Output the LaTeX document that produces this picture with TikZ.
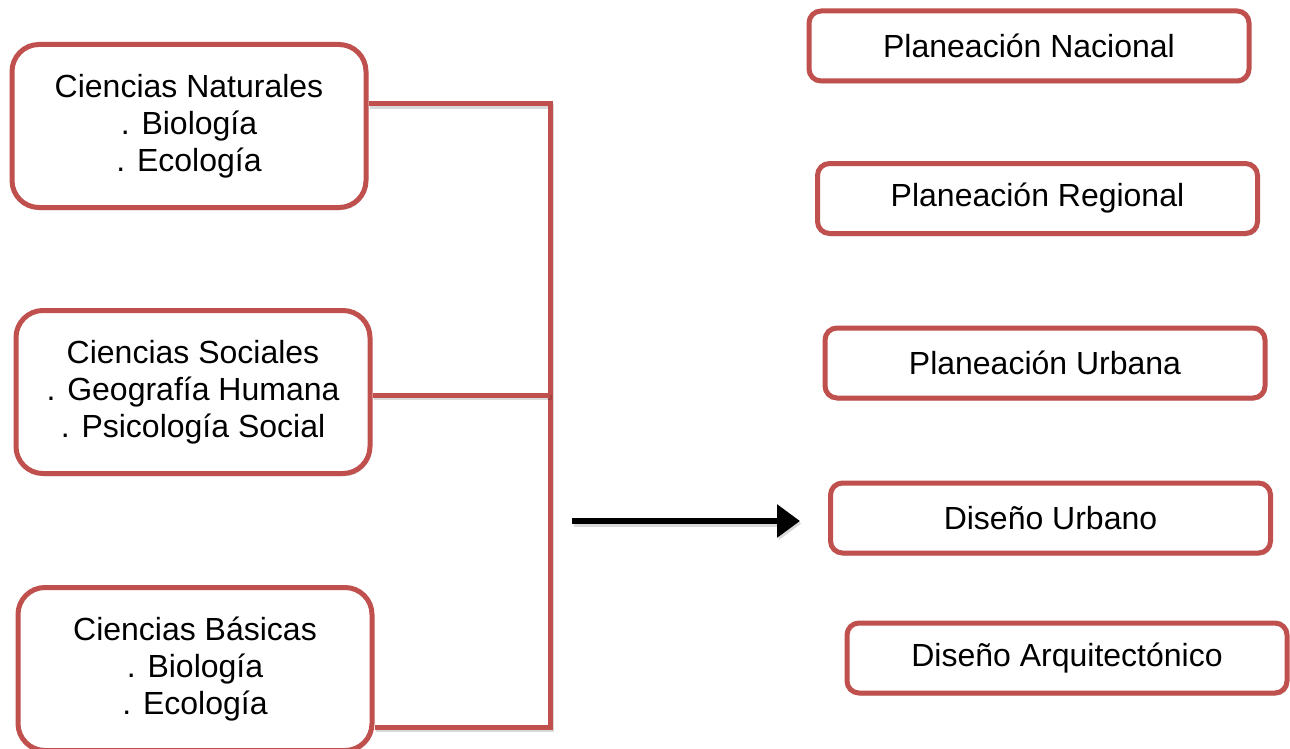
\documentclass[tikz,border=0pt]{standalone}
\usepackage{fontspec}
\setmainfont{Liberation Sans}
\usetikzlibrary{arrows.meta,shadows}
\definecolor{boxred}{HTML}{C0504D}
\begin{document}
\begin{tikzpicture}[x=1pt,y=-1pt,
  every node/.style={font=\fontsize{32}{37}\selectfont},
  softshadow/.style={drop shadow={shadow xshift=1.5pt, shadow yshift=-2.5pt, opacity=0.18, fill=black}},
  field/.style={draw=boxred, line width=5pt, fill=white, rounded corners=27pt,
    minimum width=354pt, minimum height=163pt, align=center, inner sep=0pt, softshadow},
  level/.style={draw=boxred, line width=5pt, fill=white, rounded corners=12pt,
    minimum width=440pt, minimum height=70pt, inner sep=0pt, softshadow},
  link/.style={draw=boxred, line width=5pt,
    preaction={draw=black, opacity=0.15, line width=5pt, transform canvas={shift={(1.5pt,-2.5pt)}}}},
  flow/.style={draw=black, line width=6pt, -{Triangle[length=23pt,width=32pt]},
    preaction={draw=black, opacity=0.15, line width=6pt, transform canvas={shift={(1.5pt,-2.5pt)}}}}]
\useasboundingbox (0,0) rectangle (1290,749);
\fill[white] (0,0) rectangle (1290,749);

% disciplines on the left
\node[field] (nat) at (189,126) {Ciencias Naturales\\. Biología\\. Ecología};
\node[field] (soc) at (193,392) {Ciencias Sociales\\. Geografía Humana\\. Psicología Social};
\node[field] (bas) at (195,669) {Ciencias Básicas\\. Biología\\. Ecología};

% bracket joining the disciplines
\coordinate (top) at (550,104);
\coordinate (mid) at (550,395);
\coordinate (bot) at (550,727);
\draw[link] (nat.east |- top) -- (top) -- (bot) -- (bas.east |- bot);
\draw[link] (soc.east |- mid) -- (mid);

% planning levels on the right
\node[level] (nac) at (1029,46) {Planeación Nacional};
\node[level] (reg) at (1037.5,198.5) {Planeación Regional};
\node[level] (urb) at (1045,363) {Planeación Urbana};
\node[level] (dur) at (1050.5,518) {Diseño Urbano};
\node[level] (arq) at (1067,658) {Diseño Arquitectónico};

% arrow towards the levels
\coordinate (start) at (572,521);
\draw[flow] (start) -- ([xshift=-28pt]dur.west |- start);
\end{tikzpicture}
\end{document}
